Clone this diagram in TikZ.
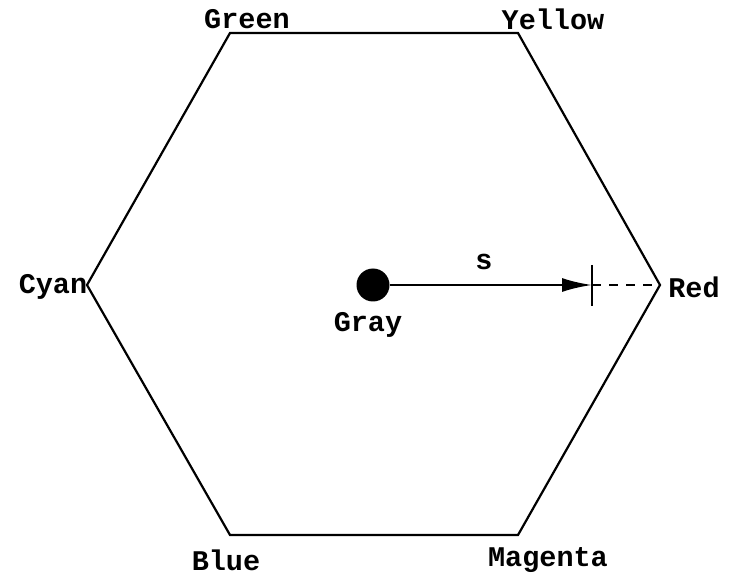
\documentclass[tikz,border=0pt]{standalone}
\usepackage{fontspec}
\setmainfont{Liberation Mono}
\usetikzlibrary{arrows.meta}
\begin{document}
\begin{tikzpicture}[x=1pt,y=-1pt,
  lbl/.style={font=\fontsize{28.5}{31}\selectfont\bfseries, inner sep=0pt},
  edge/.style={line width=2.2pt, line join=miter}]
\useasboundingbox[fill=white] (0,0) rectangle (734,577);
\coordinate (G) at (230,33);
\coordinate (Y) at (518,33);
\coordinate (R) at (660,285);
\coordinate (M) at (518,535);
\coordinate (B) at (230,535);
\coordinate (C) at (87,285);
\draw[edge] (G) -- (Y) -- (R) -- (M) -- (B) -- (C) -- cycle;
\node[lbl] (lg) at (247,19) {Green};
\node[lbl] (ly) at (553,19) {Yellow};
\node[lbl] (lr) at (694,287) {Red};
\node[lbl] (lm) at (548,560) {Magenta};
\node[lbl] (lb) at (226,560) {Blue};
\node[lbl] (lc) at (53,287) {Cyan};
\node[circle, fill=black, minimum size=33pt, inner sep=0pt] (gray) at (373,285) {};
\node[lbl] (lgray) at (368,325) {Gray};
\coordinate (T) at (592,285);
\coordinate (Ttop) at (592,265);
\coordinate (Tbot) at (592,306);
\draw[line width=2.4pt, -{Latex[length=30pt,width=14pt]}] (gray) -- (T);
\draw[line width=1.3pt] (Ttop) -- (Tbot);
\draw[line width=1.3pt, dash pattern=on 9pt off 8pt] (T) -- (R);
\node[lbl] (ls) at (484,262) {s};
\end{tikzpicture}
\end{document}
